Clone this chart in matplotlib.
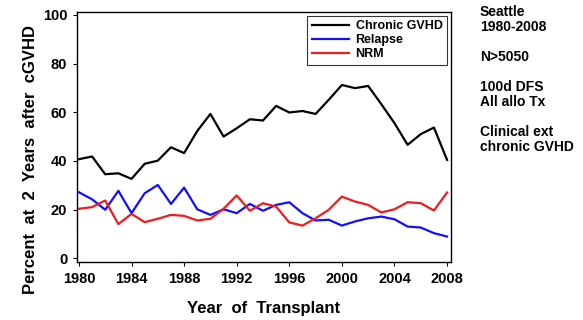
import matplotlib.pyplot as plt
import numpy as np

plt.rcParams['font.family'] = ['Liberation Sans', 'DejaVu Sans']

years = np.arange(1980, 2009)
chronic_gvhd = [40.7, 41.8, 34.5, 34.9, 32.6, 38.8, 40.1, 45.6, 43.2, 52.3,
                59.3, 50.0, 53.4, 57.1, 56.6, 62.6, 59.9, 60.5, 59.3, 65.1,
                71.2, 69.9, 70.8, 63.3, 55.5, 46.6, 51.0, 53.7, 40.4]
relapse = [27.1, 24.2, 19.9, 27.7, 18.5, 26.7, 30.1, 22.3, 29.0, 20.1,
           17.8, 20.1, 18.5, 22.3, 19.5, 21.9, 23.0, 18.5, 15.5, 15.8,
           13.4, 15.1, 16.4, 17.1, 16.0, 13.0, 12.6, 10.3, 8.9]
nrm = [20.3, 21.0, 23.7, 14.0, 18.2, 14.8, 16.2, 17.8, 17.4, 15.5,
       16.2, 20.3, 25.8, 19.5, 22.6, 21.2, 14.7, 13.4, 16.4, 19.9,
       25.3, 23.3, 21.9, 18.8, 20.1, 23.0, 22.6, 19.6, 27.0]

xticks = [1980, 1984, 1988, 1992, 1996, 2000, 2004, 2008]
yticks = [0, 20, 40, 60, 80, 100]
side_lines = ["Seattle", "1980-2008", "", "N>5050", "", "100d DFS", "All allo Tx",
              "", "Clinical ext", "chronic GVHD"]

fig = plt.figure(figsize=(5.83, 3.2), dpi=100)
ax = fig.add_axes([0.132, 0.181, 0.6416, 0.7815])

ax.plot(years, chronic_gvhd, color='black', lw=1.6, label='Chronic GVHD')
ax.plot(years, relapse, color='#1010ff', lw=1.6, label='Relapse')
ax.plot(years, nrm, color='#ee1c1c', lw=1.6, label='NRM')

ax.set_xlim(1979.85, 2008.3)
ax.set_ylim(-1.6, 101.2)
ax.set_xticks(xticks)
ax.set_yticks(yticks)
ax.tick_params(direction='out', length=3, width=0.8, labelsize=10.5, pad=4)
for lab in ax.get_xticklabels() + ax.get_yticklabels():
    lab.set_fontweight('bold')
for s in ax.spines.values():
    s.set_linewidth(1.0)

ax.set_xlabel('Year  of  Transplant', fontsize=12, fontweight='bold', labelpad=11)
ax.set_ylabel('Percent  at  2  Years  after  cGVHD', fontsize=12, fontweight='bold')
ax.yaxis.set_label_coords(-0.104, 0.41)

leg = ax.legend(loc='upper right', bbox_to_anchor=(0.989, 0.984), borderaxespad=0,
                fancybox=False, edgecolor='black', handlelength=3.0,
                handletextpad=0.5, labelspacing=0.15, borderpad=0.35,
                prop={'weight': 'bold', 'size': 9})
leg.get_frame().set_linewidth(0.8)

y = 1 - 12 / 320
for line in side_lines:
    if line:
        fig.text(480 / 583, y, line, fontsize=10, fontweight='bold', va='center')
    y -= 15 / 320

plt.savefig('out.png', dpi=100)
